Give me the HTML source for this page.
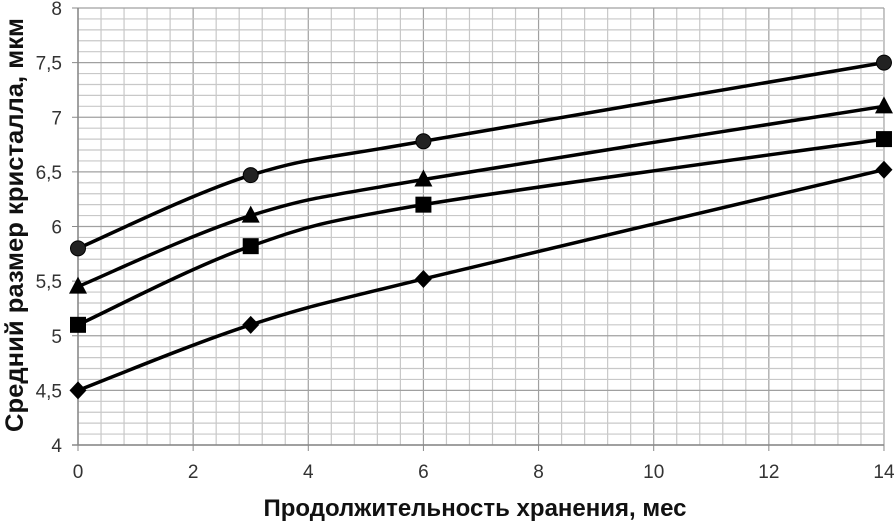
<!DOCTYPE html>
<html><head><meta charset="utf-8"><style>
body{margin:0;background:#fff;width:896px;height:523px;overflow:hidden}
svg{display:block}
text{font-family:"Liberation Sans","DejaVu Sans",sans-serif}
</style></head><body>
<svg id="s" width="896" height="523" xmlns="http://www.w3.org/2000/svg"></svg>
<script>
const s=document.getElementById('s');
const X=v=>78+v*57.57, Y=v=>445-(v-4)*109.25;
let h='';
for(let i=0;i<=35;i++){const x=X(i*0.4);h+=`<line x1="${x}" y1="8" x2="${x}" y2="445" stroke="${i%5==0?'#a0a0a0':'#c8c8c8'}" stroke-width="1.2"/>`;}
for(let i=0;i<=40;i++){const y=Y(4+i*0.1);h+=`<line x1="78" y1="${y}" x2="884" y2="${y}" stroke="${i%5==0?'#a0a0a0':'#c8c8c8'}" stroke-width="1.2"/>`;}
h+=`<line x1="78" y1="8" x2="78" y2="445" stroke="#888" stroke-width="1.5"/><line x1="72" y1="445" x2="884" y2="445" stroke="#888" stroke-width="1.5"/>`;
for(let i=0;i<=8;i++){const v=4+i*0.5,y=Y(v);h+=`<line x1="72" y1="${y}" x2="78" y2="${y}" stroke="#888"/><text x="62" y="${y+7}" font-size="19" text-anchor="end" fill="#333">${String(v).replace('.',',')}</text>`;}
for(let i=0;i<=7;i++){const x=X(i*2);h+=`<line x1="${x}" y1="445" x2="${x}" y2="451" stroke="#888"/><text x="${x}" y="478" font-size="19" text-anchor="middle" fill="#333">${i*2}</text>`;}
h+=`<text x="475" y="516" font-size="24" font-weight="bold" text-anchor="middle" fill="#111" textLength="423" lengthAdjust="spacingAndGlyphs">Продолжительность хранения, мес</text>`;
h+=`<text transform="translate(23,225) rotate(-90)" font-size="25" font-weight="bold" text-anchor="middle" fill="#111" textLength="414" lengthAdjust="spacingAndGlyphs">Средний размер кристалла, мкм</text>`;
const xs=[0,3,6,14];
const data=[['c',[5.8,6.47,6.78,7.5]],['t',[5.45,6.1,6.43,7.1]],['s',[5.1,5.82,6.2,6.8]],['d',[4.5,5.1,5.52,6.52]]];
for(const [m,ys] of data){
 const p=xs.map((x,i)=>[X(x),Y(ys[i])]);
 let d=`M${p[0][0]},${p[0][1]}`;
 for(let i=0;i<p.length-1;i++){
  const p0=p[i-1]||p[i],p1=p[i],p2=p[i+1],p3=p[i+2]||p2,t=0.5/3;
  d+=` C${p1[0]+(p2[0]-p0[0])*t},${p1[1]+(p2[1]-p0[1])*t} ${p2[0]-(p3[0]-p1[0])*t},${p2[1]-(p3[1]-p1[1])*t} ${p2[0]},${p2[1]}`;
 }
 h+=`<path d="${d}" fill="none" stroke="#000" stroke-width="3.5"/>`;
 for(const [x,y] of p){
  if(m=='c')h+=`<circle cx="${x}" cy="${y}" r="7.5" fill="#222" stroke="#000" stroke-width="1"/>`;
  if(m=='t')h+=`<polygon points="${x},${y-10} ${x+9},${y+7} ${x-9},${y+7}" fill="#000"/>`;
  if(m=='s')h+=`<rect x="${x-8}" y="${y-8}" width="16" height="16" fill="#000"/>`;
  if(m=='d')h+=`<polygon points="${x},${y-9} ${x+8.5},${y} ${x},${y+9} ${x-8.5},${y}" fill="#000"/>`;
 }
}
s.innerHTML=h;
</script>
</body></html>
